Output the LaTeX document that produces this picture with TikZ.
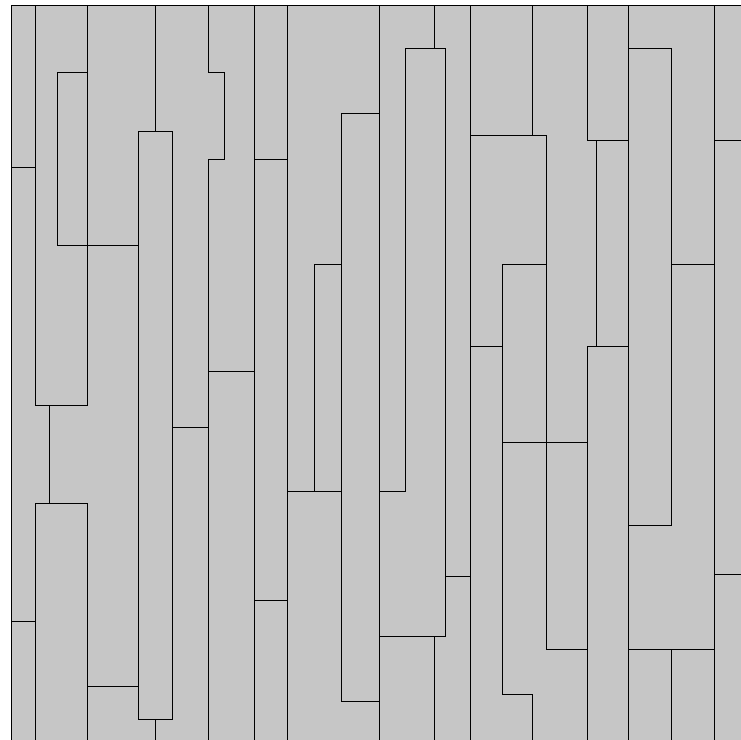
\documentclass[tikz,border=0pt]{standalone}
\definecolor{panel}{RGB}{198,198,198}
\tikzset{seam/.style={draw=black,line width=1pt,line cap=rect,line join=miter}}
\begin{document}
\begin{tikzpicture}[x=1pt,y=-1pt]
\useasboundingbox (0,0) rectangle (741,739);
\fill[panel] (11.3,5.7) rectangle (760,760);
% border
\draw[seam] (11.3,760) -- (11.3,5.7) -- (760,5.7);
% column 1
\draw[seam] (35.7,5.7) -- (35.7,405.7) -- (87.3,405.7);
\draw[seam] (11.3,167.3) -- (35.7,167.3);
\draw[seam] (87.3,5.7) -- (87.3,405.7);
\draw[seam] (87.3,72.7) -- (57.3,72.7) -- (57.3,245.3) -- (138.3,245.3);
\draw[seam] (49,405.7) -- (49,503);
\draw[seam] (35.7,760) -- (35.7,503) -- (87.3,503) -- (87.3,760);
\draw[seam] (11.3,621) -- (35.7,621);
\draw[seam] (87.3,686.7) -- (138.3,686.7);
% column 2
\draw[seam] (155.7,5.7) -- (155.7,131.3);
\draw[seam] (138.3,131.3) rectangle (172.7,719);
\draw[seam] (155.7,719) -- (155.7,760);
\draw[seam] (172.7,427.7) -- (208.7,427.7);
\draw[seam] (208.7,5.7) -- (208.7,72.7) -- (224.7,72.7) -- (224.7,159) -- (208.7,159) -- (208.7,760);
\draw[seam] (208.7,371.3) -- (254,371.3);
% column 3
\draw[seam] (254,5.7) -- (254,760);
\draw[seam] (254,159) -- (287,159);
\draw[seam] (254,600.3) -- (287,600.3);
\draw[seam] (287,5.7) -- (287,760);
\draw[seam] (287,491) -- (341.3,491);
\draw[seam] (314,491) -- (314,264.3) -- (341.3,264.3);
\draw[seam] (379.7,113.3) -- (341.3,113.3) -- (341.3,701.3) -- (379.7,701.3);
\draw[seam] (379.7,5.7) -- (379.7,760);
% column 4
\draw[seam] (434.7,5.7) -- (434.7,48.3);
\draw[seam] (379.7,491) -- (405.7,491) -- (405.7,48.3) -- (445.7,48.3) -- (445.7,636.3) -- (379.7,636.3);
\draw[seam] (434.7,636.3) -- (434.7,760);
\draw[seam] (445.7,576.3) -- (470,576.3);
\draw[seam] (470,5.7) -- (470,760);
\draw[seam] (470,135) -- (546,135);
\draw[seam] (532.7,5.7) -- (532.7,135);
\draw[seam] (470,346.7) -- (502.7,346.7);
\draw[seam] (546,135) -- (546,649.7) -- (587,649.7);
\draw[seam] (546,264.3) -- (502.7,264.3) -- (502.7,694) -- (532.7,694) -- (532.7,760);
\draw[seam] (502.7,442.3) -- (587,442.3);
% column 5
\draw[seam] (587,5.7) -- (587,140.3) -- (628.3,140.3);
\draw[seam] (596.7,140.3) -- (596.7,346.7);
\draw[seam] (628.3,346.7) -- (587,346.7) -- (587,760);
\draw[seam] (628.3,5.7) -- (628.3,760);
\draw[seam] (628.3,48.3) -- (671.7,48.3) -- (671.7,525) -- (628.3,525);
\draw[seam] (671.7,264.3) -- (714,264.3);
\draw[seam] (628.3,649.7) -- (714,649.7);
\draw[seam] (671.7,649.7) -- (671.7,760);
\draw[seam] (714,5.7) -- (714,760);
\draw[seam] (714,140.3) -- (760,140.3);
\draw[seam] (714,574.7) -- (760,574.7);
\end{tikzpicture}
\end{document}
